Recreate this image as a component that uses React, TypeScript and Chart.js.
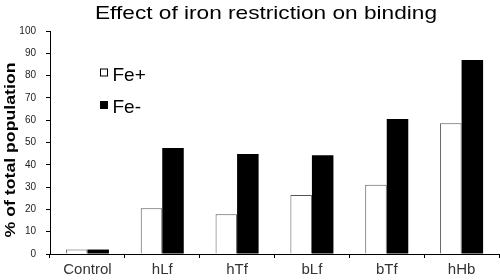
import React, { useEffect, useRef } from "react";
import { Chart, registerables } from "chart.js";

Chart.register(...registerables);

const categories = ["Control", "hLf", "hTf", "bLf", "bTf", "hHb"];
const feplus = [2, 20.5, 17.8, 26.5, 31.1, 58.6];
const feminus = [2, 47.5, 44.8, 44.3, 60.5, 87];
const seriesNames = ["Fe+", "Fe-"];
const titleText = "Effect of iron restriction on binding";
const yTitle = "% of total population";

const FONT = "Arial, 'Liberation Sans', sans-serif";

const decorPlugin = {
  id: "decor",
  afterDraw(chart: any) {
    const ctx = chart.ctx;
    // title (stretched horizontally like the reference)
    ctx.save();
    ctx.font = `19px ${FONT}`;
    ctx.fillStyle = "#000";
    ctx.textAlign = "center";
    ctx.textBaseline = "alphabetic";
    const tw = ctx.measureText(titleText).width;
    const sx = 342 / tw;
    ctx.translate(266, 18.5);
    ctx.scale(sx, 1);
    ctx.fillText(titleText, 0, 0);
    ctx.restore();

    // y axis title
    ctx.save();
    ctx.font = `bold 15px ${FONT}`;
    ctx.fillStyle = "#000";
    ctx.textAlign = "center";
    ctx.textBaseline = "middle";
    const yw = ctx.measureText(yTitle).width;
    ctx.translate(11, 150);
    ctx.rotate(-Math.PI / 2);
    ctx.scale(175 / yw, 1);
    ctx.fillText(yTitle, 0, 0);
    ctx.restore();

    // legend inside plot
    ctx.save();
    const items = [
      { name: seriesNames[0], fill: "#ffffff", y: 72.5 },
      { name: seriesNames[1], fill: "#000000", y: 105 },
    ];
    ctx.font = `19px ${FONT}`;
    ctx.textBaseline = "alphabetic";
    ctx.textAlign = "left";
    for (const it of items) {
      ctx.fillStyle = it.fill;
      ctx.fillRect(100.5, it.y - 3.5, 7, 7);
      ctx.strokeStyle = "#000";
      ctx.lineWidth = 1;
      ctx.strokeRect(100.5, it.y - 3.5, 7, 7);
      ctx.fillStyle = "#000";
      ctx.fillText(it.name, 112.5, it.y + 8);
    }
    ctx.restore();
  },
};

export default function App() {
  const ref = useRef<HTMLCanvasElement | null>(null);
  useEffect(() => {
    if (!ref.current) return;
    const chart = new Chart(ref.current, {
      type: "bar",
      data: {
        labels: categories,
        datasets: [
          {
            label: seriesNames[0],
            data: feplus,
            backgroundColor: "#ffffff",
            borderColor: "#555555",
            borderWidth: 1,
            categoryPercentage: 0.575,
            barPercentage: 1,
          },
          {
            label: seriesNames[1],
            data: feminus,
            backgroundColor: "#000000",
            borderColor: "#000000",
            borderWidth: 0,
            categoryPercentage: 0.575,
            barPercentage: 1,
          },
        ],
      },
      options: {
        animation: false,
        responsive: false,
        maintainAspectRatio: false,
        layout: { padding: { top: 31, right: 1, left: 0, bottom: 0 } },
        plugins: {
          legend: { display: false },
          tooltip: { enabled: false },
          title: { display: false },
        },
        scales: {
          x: {
            grid: {
              display: true,
              offset: true,
              drawOnChartArea: false,
              drawTicks: true,
              tickLength: 4,
              color: "#000",
            },
            border: { display: true, color: "#000", width: 1 },
            ticks: {
              color: "#333",
              font: { family: FONT, size: 15 },
              padding: 3,
            },
            afterFit(scale: any) {
              scale.height = 26;
            },
          },
          y: {
            min: 0,
            max: 100,
            grid: {
              display: true,
              drawOnChartArea: false,
              drawTicks: true,
              tickLength: 4,
              color: "#000",
            },
            border: { display: true, color: "#000", width: 1 },
            ticks: {
              stepSize: 10,
              color: "#222",
              font: { family: FONT, size: 10 },
              padding: 10,
            },
            afterFit(scale: any) {
              scale.width = 50;
            },
          },
        },
      },
      plugins: [decorPlugin],
    });
    return () => chart.destroy();
  }, []);
  return (
    <div style={{ position: "fixed", left: 0, top: 0, width: 500, height: 280, background: "#fff" }}>
      <canvas ref={ref} width={500} height={280} style={{ width: 500, height: 280 }} />
    </div>
  );
}
